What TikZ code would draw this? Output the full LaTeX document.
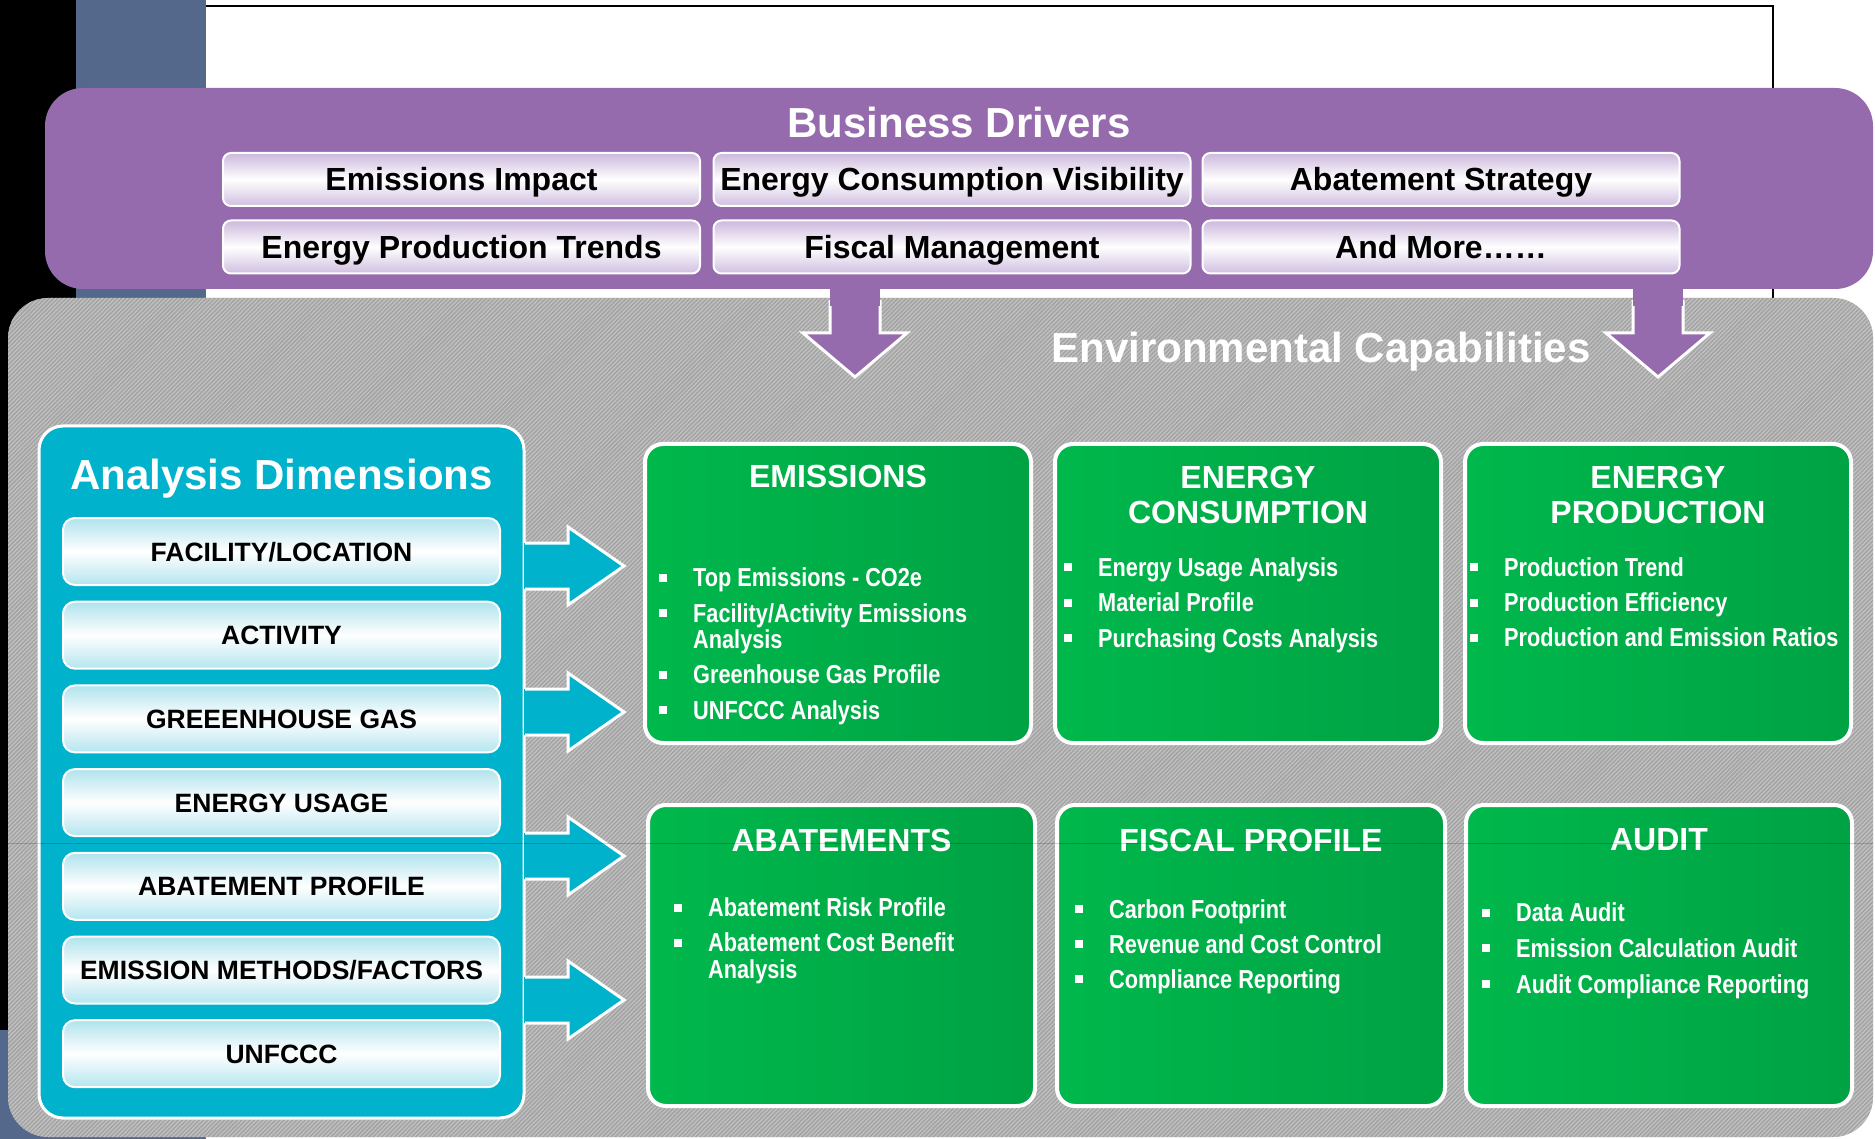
\documentclass[tikz,border=0pt]{standalone}
\usepackage{fontspec}
\setmainfont{Liberation Sans}
\newfontfamily\narrowfont[FakeStretch=0.835]{Liberation Sans}
\usetikzlibrary{patterns.meta}
\definecolor{purp}{RGB}{150,107,173}
\definecolor{slate}{RGB}{83,104,138}
\definecolor{cyanbox}{RGB}{0,178,204}
\definecolor{hatchbase}{RGB}{164,164,164}
\definecolor{hatchline}{RGB}{194,194,194}
\definecolor{gA}{RGB}{0,184,76}
\definecolor{gB}{RGB}{0,162,68}
\definecolor{pTop}{RGB}{204,184,220}
\definecolor{pBot}{RGB}{208,190,224}
\definecolor{cTop}{RGB}{176,227,237}
\definecolor{cBot}{RGB}{180,229,239}
\newcommand\bitem[4]{%
  \fill[white] ({#2-34.5},{#3-4}) rectangle ({#2-26.5},{#3+4});
  \node[btxt] (#1) at (#2,{#3+9.3}) {#4};}
\newcommand\citem[4]{%
  \node[btxt] (#1) at (#2,{#3+9.3}) {#4};}
\begin{document}
\begin{tikzpicture}[x=1pt,y=-1pt,
  pbtn/.style={draw=white, line width=2pt, rounded corners=8pt, top color=pTop, bottom color=pBot, middle color=white,
    minimum width=477pt, minimum height=53pt, inner sep=0pt, text=black, text height=23pt, text depth=0pt,
    font=\fontsize{32}{38}\selectfont\bfseries},
  cbtn/.style={draw=white, line width=2pt, rounded corners=12pt, top color=cTop, bottom color=cBot, middle color=white,
    minimum width=437pt, minimum height=67pt, inner sep=0pt, text=black, text height=19pt, text depth=0pt,
    font=\fontsize{26.5}{30}\selectfont\bfseries},
  gbox/.style={draw=white, line width=4pt, rounded corners=18pt, left color=gA, right color=gB, inner sep=0pt},
  gtitle/.style={text=white, align=center, inner sep=0pt, font=\fontsize{32}{35}\selectfont\bfseries},
  bigtitle/.style={text=white, anchor=base, inner sep=0pt, font=\fontsize{42}{48}\selectfont\bfseries},
  btxt/.style={anchor=base west, inner sep=0pt, text=white, font=\narrowfont\bfseries\fontsize{26}{30}\selectfont}]
\useasboundingbox (0,0) rectangle (1875,1139);
% background
\fill[white] (0,0) rectangle (1875,1139);
\fill[black] (0,0) rectangle (76,1030);
\fill[slate] (76,0) rectangle (206,1139);
\fill[slate] (0,1030) rectangle (76,1139);
\draw[line width=2pt] (206,6) -- (1773,6) -- (1773,298);
% purple panel
\fill[purp, rounded corners=38pt] (45,88) rectangle (1873,289);
% gray hatched panel
\fill[hatchbase, rounded corners=40pt] (8,298) rectangle (1873,1137);
\fill[pattern={Lines[angle=45,distance=3pt,line width=1.2pt]}, pattern color=hatchline, rounded corners=40pt] (8,298) rectangle (1873,1137);
% purple down arrows
\foreach \cx in {855,1658} {
  \filldraw[fill=purp, draw=white, line width=3pt, line join=miter]
    (\cx-25,300) -- (\cx-25,333) -- (\cx-52,333) -- (\cx,377) -- (\cx+52,333) -- (\cx+25,333) -- (\cx+25,300);
  \fill[purp] (\cx-25,282) rectangle (\cx+25,306);
}
% Business drivers
\node[bigtitle] (bd) at (959,138) {Business Drivers};
\node[pbtn] (b1) at (461.5,179.5) {Emissions Impact};
\node[pbtn] (b2) at (952,179.5) {Energy Consumption Visibility};
\node[pbtn] (b3) at (1441,179.5) {Abatement Strategy};
\node[pbtn] (b4) at (461.5,247) {Energy Production Trends};
\node[pbtn] (b5) at (952,247) {Fiscal Management};
\node[pbtn] (b6) at (1441,247) {And More\ldots\ldots};
% Environmental capabilities
\node[bigtitle] (ec) at (1321,363) {Environmental Capabilities};
% Analysis dimensions
\node[draw=white, line width=3pt, fill=cyanbox, rounded corners=24pt, minimum width=485pt, minimum height=692pt, inner sep=0pt] (adbox) at (281.5,772) {};
\node[bigtitle] (adt) at (281.5,489.5) {Analysis Dimensions};
\node[cbtn] (d1) at (281.5,551.5) {FACILITY/LOCATION};
\node[cbtn] (d2) at (281.5,635.2) {ACTIVITY};
\node[cbtn] (d3) at (281.5,718.9) {GREEENHOUSE GAS};
\node[cbtn] (d4) at (281.5,802.6) {ENERGY USAGE};
\node[cbtn] (d5) at (281.5,886.3) {ABATEMENT PROFILE};
\node[cbtn] (d6) at (281.5,970) {EMISSION METHODS/FACTORS};
\node[cbtn] (d7) at (281.5,1053.7) {UNFCCC};
% cyan arrows
\foreach \cy in {566,712,856,1000} {
  \fill[cyanbox] (524,\cy-23) -- (568,\cy-23) -- (568,\cy-39) -- (624,\cy) -- (568,\cy+39) -- (568,\cy+23) -- (524,\cy+23) -- cycle;
  \draw[white, line width=3pt, line join=miter] (525,\cy-23) -- (568,\cy-23) -- (568,\cy-39) -- (624,\cy) -- (568,\cy+39) -- (568,\cy+23) -- (525,\cy+23);
}
% green boxes
\node[gbox, minimum width=386pt, minimum height=299pt] (g1) at (838,593.5) {};
\node[gbox, minimum width=386pt, minimum height=299pt] (g2) at (1248,593.5) {};
\node[gbox, minimum width=386pt, minimum height=299pt] (g3) at (1658,593.5) {};
\node[gbox, minimum width=387pt, minimum height=301pt] (g4) at (841.5,955.5) {};
\node[gbox, minimum width=388pt, minimum height=301pt] (g5) at (1251,955.5) {};
\node[gbox, minimum width=386pt, minimum height=301pt] (g6) at (1659,955.5) {};
\node[gtitle] (t1) at (838,476) {EMISSIONS};
\node[gtitle] (t2) at (1248,494.5) {ENERGY\\CONSUMPTION};
\node[gtitle] (t3) at (1658,494.5) {ENERGY\\PRODUCTION};
\node[gtitle] (t4) at (841.5,840) {ABATEMENTS};
\node[gtitle] (t5) at (1251,840) {FISCAL PROFILE};
\node[gtitle] (t6) at (1659,840) {AUDIT};
% items
\bitem{e1}{693}{577.5}{Top Emissions - CO2e}
\bitem{e2}{693}{613}{Facility/Activity Emissions}
\citem{e2b}{693}{639}{Analysis}
\bitem{e3}{693}{674.5}{Greenhouse Gas Profile}
\bitem{e4}{693}{710}{UNFCCC Analysis}
\bitem{c1}{1098}{567}{Energy Usage Analysis}
\bitem{c2}{1098}{602.5}{Material Profile}
\bitem{c3}{1098}{638}{Purchasing Costs Analysis}
\bitem{p1}{1504}{567}{Production Trend}
\bitem{p2}{1504}{602.5}{Production Efficiency}
\bitem{p3}{1504}{637.5}{Production and Emission Ratios}
\bitem{a1}{708}{907.5}{Abatement Risk Profile}
\bitem{a2}{708}{942.5}{Abatement Cost Benefit}
\citem{a2b}{708}{969}{Analysis}
\bitem{f1}{1109}{909}{Carbon Footprint}
\bitem{f2}{1109}{944}{Revenue and Cost Control}
\bitem{f3}{1109}{979}{Compliance Reporting}
\bitem{u1}{1516}{912.5}{Data Audit}
\bitem{u2}{1516}{948}{Emission Calculation Audit}
\bitem{u3}{1516}{984}{Audit Compliance Reporting}
% faint slide line
\draw[black, opacity=0.18, line width=1pt] (8,843) -- (1873,843);
\end{tikzpicture}
\end{document}
